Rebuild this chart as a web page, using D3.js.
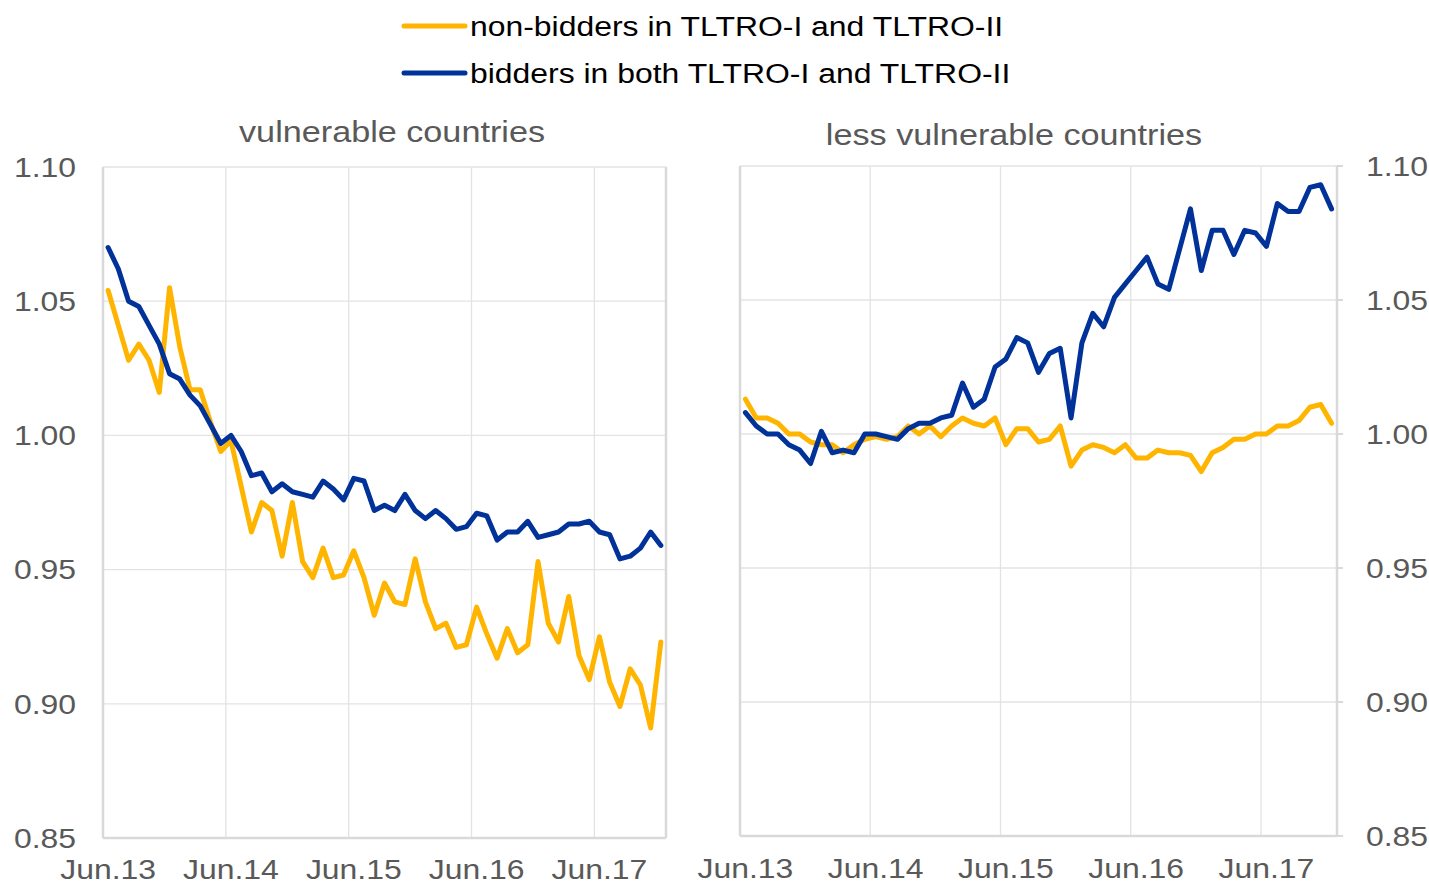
<!DOCTYPE html>
<html>
<head>
<meta charset="utf-8">
<script src="https://cdn.jsdelivr.net/npm/d3@7.8.5/dist/d3.min.js"></script>
<style>
  body { margin: 0; background: #fff; }
  svg { display: block; font-family: "Liberation Sans", Arial, sans-serif; }
</style>
</head>
<body>
<svg id="chart" width="1429" height="884"></svg>
<script>
// monthly observations, Jun.13 .. Dec.17
const months = d3.timeMonth.range(new Date(2013, 5, 1), new Date(2018, 0, 1));
const tickLabels = ["Jun.13", "Jun.14", "Jun.15", "Jun.16", "Jun.17"];
const yTicks = [0.85, 0.90, 0.95, 1.00, 1.05, 1.10];

const seriesNames = ["non-bidders in TLTRO-I and TLTRO-II", "bidders in both TLTRO-I and TLTRO-II"];
const panelTitles = ["vulnerable countries", "less vulnerable countries"];

const vulnNonBidders = [
  1.054, 1.041, 1.028, 1.034, 1.028, 1.016, 1.055, 1.033, 1.017, 1.017,
  1.005, 0.994, 0.998, 0.981, 0.964, 0.975, 0.972, 0.955, 0.975, 0.953,
  0.947, 0.958, 0.947, 0.948, 0.957, 0.947, 0.933, 0.945, 0.938, 0.937,
  0.954, 0.938, 0.928, 0.930, 0.921, 0.922, 0.936, 0.926, 0.917, 0.928,
  0.919, 0.922, 0.953, 0.930, 0.923, 0.940, 0.918, 0.909, 0.925, 0.908,
  0.899, 0.913, 0.907, 0.891, 0.923
];
const vulnBidders = [
  1.070, 1.062, 1.050, 1.048, 1.041, 1.034, 1.023, 1.021, 1.015, 1.011,
  1.004, 0.997, 1.000, 0.994, 0.985, 0.986, 0.979, 0.982, 0.979, 0.978,
  0.977, 0.983, 0.980, 0.976, 0.984, 0.983, 0.972, 0.974, 0.972, 0.978,
  0.972, 0.969, 0.972, 0.969, 0.965, 0.966, 0.971, 0.970, 0.961, 0.964,
  0.964, 0.968, 0.962, 0.963, 0.964, 0.967, 0.967, 0.968, 0.964, 0.963,
  0.954, 0.955, 0.958, 0.964, 0.959
];
const lessNonBidders = [
  1.013, 1.006, 1.006, 1.004, 1.000, 1.000, 0.997, 0.996, 0.996, 0.993,
  0.996, 0.998, 0.999, 0.998, 0.999, 1.003, 1.000, 1.003, 0.999, 1.003,
  1.006, 1.004, 1.003, 1.006, 0.996, 1.002, 1.002, 0.997, 0.998, 1.003,
  0.988, 0.994, 0.996, 0.995, 0.993, 0.996, 0.991, 0.991, 0.994, 0.993,
  0.993, 0.992, 0.986, 0.993, 0.995, 0.998, 0.998, 1.000, 1.000, 1.003,
  1.003, 1.005, 1.010, 1.011, 1.004
];
const lessBidders = [
  1.008, 1.003, 1.000, 1.000, 0.996, 0.994, 0.989, 1.001, 0.993, 0.994,
  0.993, 1.000, 1.000, 0.999, 0.998, 1.002, 1.004, 1.004, 1.006, 1.007,
  1.019, 1.010, 1.013, 1.025, 1.028, 1.036, 1.034, 1.023, 1.030, 1.032,
  1.006, 1.034, 1.045, 1.040, 1.051, 1.056, 1.061, 1.066, 1.056, 1.054,
  1.069, 1.084, 1.061, 1.076, 1.076, 1.067, 1.076, 1.075, 1.070, 1.086,
  1.083, 1.083, 1.092, 1.093, 1.084
];

const colors = ["#FFB400", "#003299"];
const STRETCH = 1.14; // reference text is drawn slightly wide

const svg = d3.select("#chart");

// place a text with horizontal stretch
function placeText(parent, str, x, y, opts) {
  return parent.append("text")
    .attr("transform", `translate(${x},${y}) scale(${STRETCH},1)`)
    .attr("text-anchor", opts.anchor || "start")
    .attr("dy", opts.dy || null)
    .attr("font-size", opts.size || 28)
    .attr("fill", opts.fill || "#595959")
    .text(str);
}

const panels = [
  { title: panelTitles[0], series: [vulnNonBidders, vulnBidders], left: 103, right: 666, top: 167, bottom: 838, titleX: 392, titleY: 142, labelY: 879, axisSide: "left" },
  { title: panelTitles[1], series: [lessNonBidders, lessBidders], left: 740, right: 1337, top: 166, bottom: 836, titleX: 1014, titleY: 145, labelY: 878, axisSide: "right" }
];

panels.forEach(p => {
  const x = d3.scaleBand().domain(months).range([p.left, p.right]).paddingInner(0).paddingOuter(0);
  const y = d3.scaleLinear().domain([0.85, 1.10]).range([p.bottom, p.top]);
  const g = svg.append("g");

  // horizontal gridlines
  g.append("g").selectAll("line").data(yTicks.filter(t => t > 0.85)).join("line")
    .attr("x1", p.left).attr("x2", p.right)
    .attr("y1", d => y(d)).attr("y2", d => y(d))
    .attr("stroke", "#e3e3e3").attr("stroke-width", 1.3);

  // vertical gridlines at June boundaries
  const juneMonths = months.filter(m => m.getMonth() === 5);
  g.append("g").selectAll("line").data(juneMonths.slice(1)).join("line")
    .attr("x1", d => x(d)).attr("x2", d => x(d))
    .attr("y1", p.top).attr("y2", p.bottom)
    .attr("stroke", "#e3e3e3").attr("stroke-width", 1.3);

  // frame lines
  g.append("line").attr("x1", p.left).attr("x2", p.left).attr("y1", p.top).attr("y2", p.bottom)
    .attr("stroke", "#d9d9d9").attr("stroke-width", 2.5);
  g.append("line").attr("x1", p.right).attr("x2", p.right).attr("y1", p.top).attr("y2", p.bottom)
    .attr("stroke", "#d9d9d9").attr("stroke-width", 2.5);
  g.append("line").attr("x1", p.left).attr("x2", p.right).attr("y1", p.bottom).attr("y2", p.bottom)
    .attr("stroke", "#d9d9d9").attr("stroke-width", 2.5);

  // y tick labels
  yTicks.forEach(t => {
    if (p.axisSide === "left") {
      placeText(g, t.toFixed(2), 76, y(t), { anchor: "end", dy: "0.35em" });
    } else {
      placeText(g, t.toFixed(2), 1366, y(t), { anchor: "start", dy: "0.35em" });
    }
  });
  if (p.axisSide === "right") {
    g.append("g").selectAll("line").data(yTicks).join("line")
      .attr("x1", p.right).attr("x2", p.right + 6)
      .attr("y1", d => y(d)).attr("y2", d => y(d))
      .attr("stroke", "#d9d9d9").attr("stroke-width", 2);
  }

  // x tick labels
  juneMonths.forEach((m, i) => {
    placeText(g, tickLabels[i], x(m) + x.bandwidth() / 2, p.labelY, { anchor: "middle" });
  });

  // panel title
  placeText(g, p.title, p.titleX, p.titleY, { anchor: "middle", size: 30 });

  // lines
  const line = d3.line()
    .x((d, i) => x(months[i]) + x.bandwidth() / 2)
    .y(d => y(d));
  p.series.forEach((s, k) => {
    g.append("path")
      .datum(s)
      .attr("d", line)
      .attr("fill", "none")
      .attr("stroke", colors[k])
      .attr("stroke-width", 5)
      .attr("stroke-linejoin", "round")
      .attr("stroke-linecap", "round");
  });
});

// legend
const legend = svg.append("g");
seriesNames.forEach((name, k) => {
  const ly = 26 + k * 47;
  legend.append("line")
    .attr("x1", 404).attr("x2", 465)
    .attr("y1", ly).attr("y2", ly)
    .attr("stroke", colors[k]).attr("stroke-width", 5).attr("stroke-linecap", "round");
  placeText(legend, name, 470, ly, { dy: "0.35em", fill: "#000" });
});
</script>
</body>
</html>
